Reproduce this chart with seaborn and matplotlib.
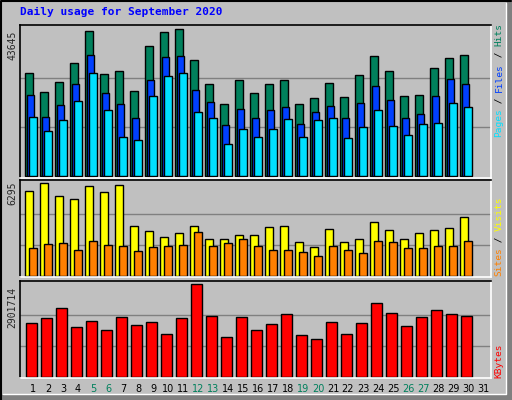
import matplotlib
matplotlib.use("Agg")
import matplotlib.pyplot as plt
import numpy as np
import pandas as pd
import seaborn as sns
from matplotlib.patches import Rectangle
from matplotlib.lines import Line2D

days = list(range(1, 31))
hits = [30551, 24897, 27873, 33527, 43050, 30254, 31146, 25195, 38585, 42752,
        43645, 34420, 27278, 21326, 28468, 24600, 27278, 28468, 21326, 23112,
        27575, 23409, 29956, 35610, 31146, 23707, 24004, 32039, 35015, 35907]
files = [24004, 17656, 21029, 27278, 35907, 24600, 21326, 17160, 28468, 35312,
         35610, 25492, 21921, 15077, 19838, 17160, 19541, 20433, 15375, 18945,
         20731, 17160, 21624, 26682, 22516, 17160, 18350, 23707, 28765, 27278]
pages = [17457, 13291, 16565, 22219, 30551, 19541, 11506, 10613, 23707, 29658,
         30551, 18945, 17160, 9423, 13887, 11506, 13887, 16862, 11506, 16565,
         17160, 11208, 14482, 19541, 14779, 12101, 15375, 15672, 21624, 20433]
visits = [5748, 6295, 5406, 5201, 6090, 5680, 6159, 3353, 3011, 2600,
          2874, 3353, 2463, 2463, 2737, 2737, 3285, 3353, 2258, 1916,
          3148, 2258, 2463, 3627, 3079, 2463, 2874, 3079, 3216, 3969]
sites = [1848, 2121, 2190, 1711, 2327, 2053, 1984, 1642, 1916, 1984,
         2053, 2942, 1984, 2190, 2463, 1984, 1711, 1711, 1574, 1300,
         1984, 1711, 1505, 2327, 2258, 1848, 1848, 1984, 1984, 2327]
kbytes = [1690000, 1817600, 2136400, 1562500, 1753800, 1466800, 1849500, 1626300, 1721900, 1339300,
          1817600, 2901714, 1881400, 1243600, 1849500, 1466800, 1658200, 1945100, 1307400, 1179800,
          1721900, 1339300, 1690000, 2295900, 1977000, 1594400, 1849500, 2072700, 1945100, 1881400]
green_days = [5, 6, 12, 13, 19, 20, 26, 27]

df = pd.DataFrame({"day": days, "hits": hits, "files": files, "pages": pages,
                   "visits": visits, "sites": sites, "kbytes": kbytes})

BG = "#c0c0c0"
sns.set_style("white")
plt.rcParams["font.family"] = ["DejaVu Sans Mono"]

W, H = 512, 400
fig = plt.figure(figsize=(5.12, 4.0), dpi=100, facecolor=BG)


def px_axes(x0, y0, x1, y1):
    return fig.add_axes([x0 / W, 1 - y1 / H, (x1 - x0) / W, (y1 - y0) / H])


def bars(ax, col, color, left, right):
    n0 = len(ax.patches)
    sns.barplot(data=df, x="day", y=col, ax=ax, native_scale=True, color=color,
                width=right - left, saturation=1, edgecolor="black", linewidth=1)
    for p in ax.patches[n0:]:
        p.set_x(p.get_x() + (left + right) / 2)


def style(ax, top):
    ax.set_facecolor(BG)
    ax.set_xlim(0.133, 31.53)
    ax.set_ylim(-top * 0.015, top * 1.03)
    for v in (top / 3, 2 * top / 3):
        ax.axhline(v, color="#808080", lw=1, zorder=0)
    ax.set_xticks([])
    ax.set_yticks([])
    ax.set_xlabel("")
    ax.set_ylabel("")
    ax.spines["top"].set_color("black")
    ax.spines["left"].set_color("black")
    ax.spines["right"].set_color("white")
    ax.spines["bottom"].set_color("white")
    for s in ax.spines.values():
        s.set_linewidth(1.2)


def side_label(parts, y_bottom, fs=6.8):
    adv = 0.602 * fs * 100 / 72
    y = y_bottom
    for txt, c in parts:
        fig.text(499 / W, 1 - y / H, txt, color=c, fontsize=fs, rotation=90,
                 ha="center", va="bottom")
        y -= adv * len(txt)


ax1 = px_axes(20, 25, 491, 178)
bars(ax1, "hits", "#00805c", -0.51, -0.02)
bars(ax1, "files", "#0040ff", -0.38, 0.07)
bars(ax1, "pages", "#00e0ff", -0.27, 0.25)
style(ax1, max(hits))

ax2 = px_axes(20, 180, 491, 277)
bars(ax2, "visits", "#ffff00", -0.51, 0.02)
bars(ax2, "sites", "#ff8000", -0.25, 0.27)
style(ax2, max(visits))

ax3 = px_axes(20, 281, 491, 378)
bars(ax3, "kbytes", "#ff0000", -0.45, 0.25)
style(ax3, max(kbytes))

fig.text(20 / W, 1 - 12 / H, "Daily usage for September 2020", color="#0000ff",
         fontsize=8, fontweight="bold", va="center", ha="left")
fig.text(12 / W, 1 - 45 / H, str(max(hits)), rotation=90, fontsize=7, ha="center", va="center")
fig.text(12 / W, 1 - 193 / H, str(max(visits)), rotation=90, fontsize=7, ha="center", va="center")
fig.text(12 / W, 1 - 307 / H, str(max(kbytes)), rotation=90, fontsize=7, ha="center", va="center")

side_label([("Pages", "#00e0ff"), (" / ", "black"), ("Files", "#0040ff"),
            (" / ", "black"), ("Hits", "#00805c")], 137)
side_label([("Sites", "#ff8000"), (" / ", "black"), ("Visits", "#ffff00")], 276)
side_label([("KBytes", "#ff0000")], 378)

for d in range(1, 32):
    x = 33 + (d - 1) * 15
    fig.text(x / W, 1 - 389 / H, str(d), fontsize=7, ha="center", va="center",
             color="#00805c" if d in green_days else "black",
             family=["DejaVu Sans"])

# outer 3D frame
fig.add_artist(Line2D([1 / W, 1 / W, 1 - 1 / W], [0, 1 - 1 / H, 1 - 1 / H],
                      transform=fig.transFigure, color="black", lw=1.5))
fig.add_artist(Line2D([3 / W, 1 - 6 / W, 1 - 6 / W], [6 / H, 6 / H, 1 - 3 / H],
                      transform=fig.transFigure, color="white", lw=1))
fig.add_artist(Rectangle((1 - 5 / W, 0), 5 / W, 1, transform=fig.transFigure,
                         color="#808080", lw=0))
fig.add_artist(Rectangle((0, 0), 1, 5 / H, transform=fig.transFigure,
                         color="#808080", lw=0))

fig.savefig("out.png", dpi=100, facecolor=BG)
